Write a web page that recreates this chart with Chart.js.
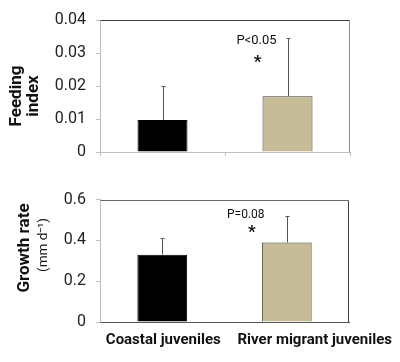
<!DOCTYPE html>
<html>
<head>
<meta charset="utf-8">
<script src="https://cdn.jsdelivr.net/npm/chart.js@4"></script>
<style>
  body { margin: 0; background: #fff; }
  .panel { position: absolute; left: 0; }
</style>
</head>
<body>
<div class="panel" style="top:0"><canvas id="feedChart" width="400" height="180"></canvas></div>
<div class="panel" style="top:180px"><canvas id="growthChart" width="400" height="182"></canvas></div>
<script>
const groups = ['Coastal juveniles', 'River migrant juveniles'];
const barColors = ['#000000', '#c6bd98'];
const barEdges = ['#000000', '#3d3a2c'];

// feeding index (mean, +SD)
const feedMean = [0.0097, 0.0169];
const feedErr = [0.0103, 0.0176];
const feedTicks = ['0', '0.01', '0.02', '0.03', '0.04'];

// growth rate, mm/day (mean, +SD)
const growthMean = [0.33, 0.39];
const growthErr = [0.08, 0.13];
const growthTicks = ['0', '0.2', '0.4', '0.6'];

const FONT = 'Roboto';

// error bars (upper half only) drawn from the data through the scales
const errorBars = {
    id: 'errorBars',
    afterDatasetsDraw(chart, args, opts) {
        const { ctx, scales: { x, y } } = chart;
        const means = chart.data.datasets[0].data;
        ctx.save();
        ctx.strokeStyle = '#555';
        ctx.lineWidth = 1;
        means.forEach((m, i) => {
            const px = Math.round(x.getPixelForValue(i)) + 0.5;
            const y0 = y.getPixelForValue(m);
            const y1 = y.getPixelForValue(m + opts.err[i]);
            ctx.beginPath();
            ctx.moveTo(px, y0);
            ctx.lineTo(px, y1);
            ctx.moveTo(px - 2, Math.round(y1) + 0.5);
            ctx.lineTo(px + 2, Math.round(y1) + 0.5);
            ctx.stroke();
        });
        ctx.restore();
    }
};

// frame lines, titles and notes
const decor = {
    id: 'decor',
    afterDraw(chart, args, o) {
        const { ctx, chartArea: a, scales: { x, y } } = chart;
        ctx.save();
        ctx.lineWidth = 1;
        const line = (c, x0, y0, x1, y1) => {
            ctx.strokeStyle = c;
            ctx.beginPath(); ctx.moveTo(x0, y0); ctx.lineTo(x1, y1); ctx.stroke();
        };
        const L = Math.round(a.left) + 0.5, R = Math.round(a.right) - 0.5;
        const T = Math.round(a.top) + 0.5, B = Math.round(a.bottom) + 0.5;
        line(o.topColor, L, T, R, T);
        line(o.rightColor, R, T, R, B);
        if (o.bottomColor) line(o.bottomColor, L, B, R + 0.5, B);

        // y title, rotated
        ctx.textAlign = 'center';
        ctx.textBaseline = 'middle';
        o.titles.forEach(t => {
            ctx.save();
            ctx.translate(t.x, t.y);
            ctx.rotate(-Math.PI / 2);
            ctx.font = t.font;
            ctx.fillStyle = '#111';
            ctx.fillText(t.text, 0, 0);
            ctx.restore();
        });

        // significance note above second bar
        ctx.fillStyle = '#111';
        ctx.font = o.noteFont;
        ctx.fillText(o.note, x.getPixelForValue(1) + o.noteDx, y.getPixelForValue(o.noteAt));
        ctx.font = 'bold 17px ' + FONT;
        ctx.fillText('*', x.getPixelForValue(1) + o.starDx, y.getPixelForValue(o.starAt) + 4);

        // category labels
        if (o.showLabels) {
            ctx.font = 'bold 15px ' + FONT;
            chart.data.labels.forEach((lab, i) => {
                ctx.fillText(lab, x.getPixelForValue(i) + o.labelDx[i], o.labelY);
            });
        }
        ctx.restore();
    }
};

function makeChart(id, means, err, ticks, max, step, pad, xHeight, frame) {
    return new Chart(document.getElementById(id), {
        type: 'bar',
        data: {
            labels: groups,
            datasets: [{
                data: means,
                backgroundColor: barColors,
                borderColor: barEdges,
                borderWidth: 1,
                barPercentage: 0.4,
                categoryPercentage: 1
            }]
        },
        options: {
            responsive: false,
            animation: false,
            layout: { padding: pad },
            plugins: {
                legend: { display: false },
                tooltip: { enabled: false },
                errorBars: { err: err },
                decor: frame
            },
            scales: {
                x: {
                    grid: { drawOnChartArea: false, drawTicks: frame.xTicks, tickLength: 4, color: '#bfbfbf', offset: true },
                    border: { color: frame.bottomColor || '#bfbfbf' },
                    ticks: { display: false },
                    afterFit: s => { s.height = xHeight; }
                },
                y: {
                    min: 0, max: max,
                    grid: { drawOnChartArea: false, tickLength: 4, color: '#bfbfbf' },
                    border: { color: '#bfbfbf' },
                    ticks: {
                        stepSize: step, padding: 10, color: '#222',
                        font: { family: FONT, size: 16 },
                        callback: (v, i) => ticks[i]
                    },
                    afterFit: s => { s.width = 100; }
                }
            }
        },
        plugins: [errorBars, decor]
    });
}

makeChart('feedChart', feedMean, feedErr, feedTicks, 0.04, 0.01,
    { left: 0, right: 50, top: 20, bottom: 0 }, 28, {
        topColor: '#404040', rightColor: '#8c8c8c', bottomColor: null, xTicks: true,
        titles: [
            { text: 'Feeding', x: 17, y: 96, font: 'bold 17px ' + FONT },
            { text: 'index', x: 34, y: 96, font: 'bold 17px ' + FONT }
        ],
        note: 'P<0.05', noteFont: '13px ' + FONT, noteDx: -31, noteAt: 0.0336,
        starDx: -30, starAt: 0.0282, showLabels: false
    });

makeChart('growthChart', growthMean, growthErr, growthTicks, 0.6, 0.2,
    { left: 0, right: 51, top: 12, bottom: 0 }, 40, {
        topColor: '#6a6a6a', rightColor: '#404040', bottomColor: '#555555', xTicks: false,
        titles: [
            { text: 'Growth rate', x: 25, y: 68, font: 'bold 17px ' + FONT },
            { text: '(mm d\u207B\u00B9)', x: 44, y: 65, font: '13.5px ' + FONT }
        ],
        note: 'P=0.08', noteFont: '12px ' + FONT, noteDx: -41, noteAt: 0.523,
        starDx: -35, starAt: 0.458, showLabels: true, labelDx: [1, 28], labelY: 160
    });
</script>
</body>
</html>
